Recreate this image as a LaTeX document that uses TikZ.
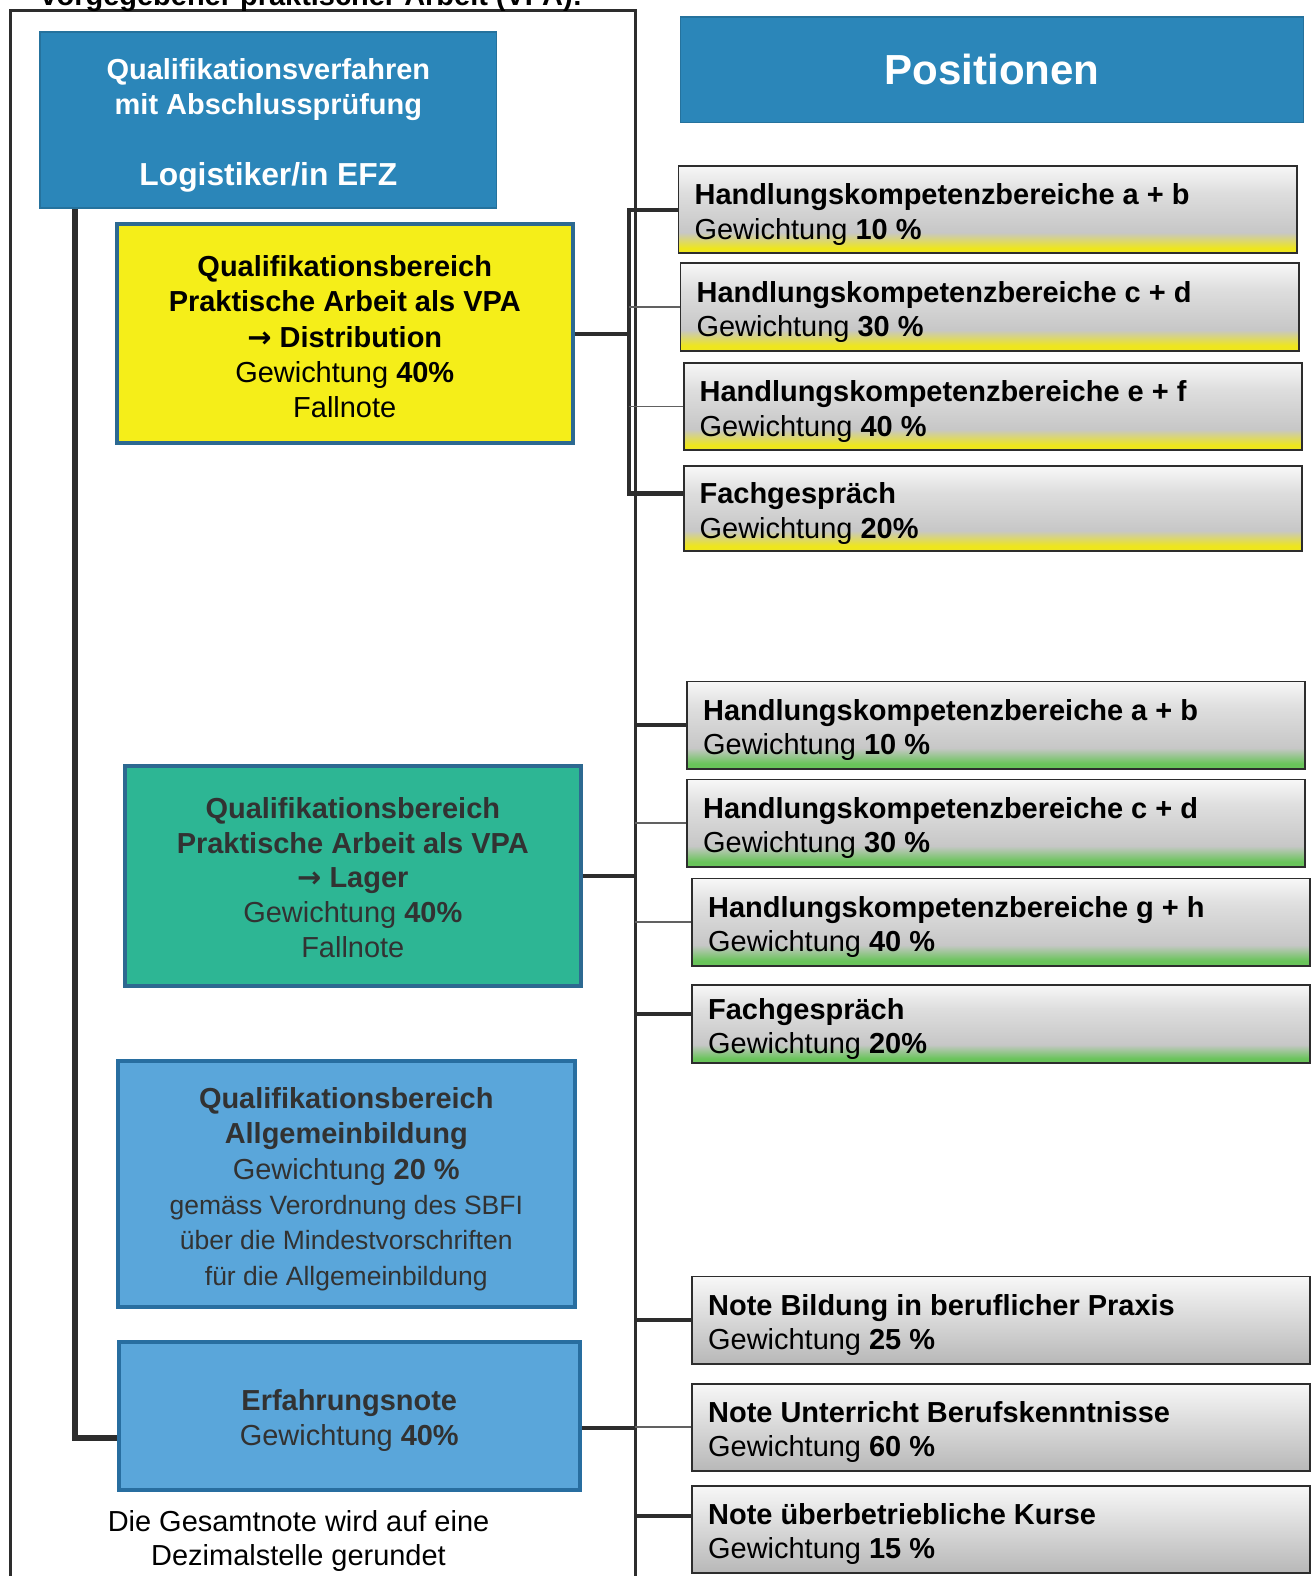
\documentclass[tikz,border=0pt]{standalone}
\usepackage{fontspec}
\setmainfont{Liberation Sans}
\newfontfamily\pfeilschrift{DejaVu Sans}
\usepackage{tikz}

\definecolor{dunkelblau}{RGB}{43,134,185}
\definecolor{hellblau}{RGB}{90,166,218}
\definecolor{gelb}{RGB}{245,238,25}
\definecolor{tuerkis}{RGB}{45,182,148}
\definecolor{rand}{RGB}{45,105,145}
\definecolor{randblau}{RGB}{40,110,160}
\definecolor{linie}{RGB}{45,45,45}
\definecolor{textgrau}{RGB}{50,50,50}
\definecolor{streifgelb}{RGB}{238,230,30}
\definecolor{streifgruen}{RGB}{105,196,90}

\pgfdeclareverticalshading{gelbverlauf}{100bp}{color(0bp)=(streifgelb); color(25bp)=(streifgelb); color(28bp)=(streifgelb); color(37bp)=(black!22); color(60bp)=(black!13); color(75bp)=(black!3); color(100bp)=(black!3)}
\pgfdeclareverticalshading{gruenverlauf}{100bp}{color(0bp)=(streifgruen); color(25bp)=(streifgruen); color(28bp)=(streifgruen); color(37bp)=(black!22); color(60bp)=(black!13); color(75bp)=(black!3); color(100bp)=(black!3)}

\newcommand{\normschrift}{\fontsize{16.4}{19.6}\selectfont}
\newcommand{\teilschrift}{\fontsize{16.4}{19.4}\selectfont}
\newcommand{\weitschrift}{\fontsize{16.4}{20}\selectfont}
\newcommand{\kleinschrift}{\fontsize{15}{20}\selectfont}
\newcommand{\pfeil}{{\pfeilschrift\bfseries →}}

\begin{document}
\begin{tikzpicture}[x=0.02cm, y=-0.02cm,
	hoch/.style={execute at begin node={\rule{0pt}{#1}}},
	kopf/.style={draw=dunkelblau!85!black, line width=1pt, fill=dunkelblau, text=white, font=\normschrift\bfseries, align=flush center, inner sep=0pt},
	bereich/.style={draw=rand, line width=2.3pt, align=flush center, inner sep=0pt, text width=9.08cm, font=\weitschrift},
	teil/.style={draw=linie, line width=1.1pt, align=flush left, text width=11.66cm, inner xsep=0.32cm, inner ysep=0pt, minimum height=1.74cm, font=\teilschrift, hoch=17.6pt},
	gelbteil/.style={teil, shade, shading=gelbverlauf},
	gruenteil/.style={teil, shade, shading=gruenverlauf},
	grauteil/.style={teil, top color=black!3, bottom color=black!28},
	rahmen/.style={draw=linie, line width=1.7pt},
	stamm/.style={draw=linie, line width=3.4pt},
	dick/.style={draw=linie, line width=2.3pt},
	duenn/.style={draw=linie!75, line width=0.9pt}]
			\useasboundingbox (0,0) rectangle (1309,1568);
			\draw[rahmen] (10,1600) |- (632,10) -- (632,1600);
			\node[anchor=base west, inner sep=0pt, font=\normschrift\bfseries] (ueberschrift)at(40, 5) {vorgegebener praktischer Arbeit (VPA):};

			\node[kopf, hoch=17.6pt, text width=9.08cm, minimum height=3.5cm] (verfahren)at(267, 119.5) {Qualifikationsverfahren\\mit Abschlussprüfung\\[20.6pt]{\fontsize{18}{21.6}\selectfont Logistiker/in EFZ}};
			\node[kopf, font=\fontsize{23.8}{28}\selectfont\bfseries, minimum width=12.4cm, minimum height=2.1cm] (positionen)at(987, 69.5) {Positionen};

			\node[bereich, hoch=15.4pt, fill=gelb, minimum height=4.36cm] (distribution)at(343, 332) {\textbf{Qualifikationsbereich}\\\textbf{Praktische Arbeit als VPA}\\\pfeil\ \textbf{Distribution}\\Gewichtung \textbf{40\%}\\Fallnote};
			\node[bereich, hoch=13.7pt, font=\normschrift, fill=tuerkis, text=textgrau, minimum height=4.38cm] (lager)at(351, 871.5) {\textbf{Qualifikationsbereich}\\\textbf{Praktische Arbeit als VPA}\\\pfeil\ \textbf{Lager}\\Gewichtung \textbf{40\%}\\Fallnote};
			\node[bereich, hoch=17.7pt, fill=hellblau, draw=randblau, text=textgrau, text width=9.1cm, minimum height=4.88cm] (allgemein)at(344.5, 1178) {\textbf{Qualifikationsbereich}\\\textbf{Allgemeinbildung}\\Gewichtung \textbf{20 \%}\\{\kleinschrift gemäss Verordnung des SBFI}\\{\kleinschrift über die Mindestvorschriften}\\{\kleinschrift für die Allgemeinbildung}};
			\node[bereich, hoch=17.7pt, fill=hellblau, draw=randblau, text=textgrau, text width=9.18cm, minimum height=2.94cm] (erfahrung)at(347.5, 1408.5) {\textbf{Erfahrungsnote}\\Gewichtung \textbf{40\%}};
			\node[align=center, font=\normschrift] (gesamtnote)at(297, 1533) {Die Gesamtnote wird auf eine\\Dezimalstelle gerundet};

			\node[gelbteil] (d1)at(982.5, 208.5) {\textbf{Handlungskompetenzbereiche a + b}\\Gewichtung \textbf{10 \%}};
			\node[gelbteil] (d2)at(984.5, 305.5) {\textbf{Handlungskompetenzbereiche c + d}\\Gewichtung \textbf{30 \%}};
			\node[gelbteil] (d3)at(987.5, 404.5) {\textbf{Handlungskompetenzbereiche e + f}\\Gewichtung \textbf{40 \%}};
			\node[gelbteil, minimum height=1.68cm] (d4)at(987.5, 506) {\textbf{Fachgespräch}\\Gewichtung \textbf{20\%}};

			\node[gruenteil] (l1)at(991, 721.5) {\textbf{Handlungskompetenzbereiche a + b}\\Gewichtung \textbf{10 \%}};
			\node[gruenteil] (l2)at(991, 819) {\textbf{Handlungskompetenzbereiche c + d}\\Gewichtung \textbf{30 \%}};
			\node[gruenteil] (l3)at(996, 917.5) {\textbf{Handlungskompetenzbereiche g + h}\\Gewichtung \textbf{40 \%}};
			\node[gruenteil, minimum height=1.56cm] (l4)at(996, 1019) {\textbf{Fachgespräch}\\Gewichtung \textbf{20\%}};

			\node[grauteil] (n1)at(996, 1313.5) {\textbf{Note Bildung in beruflicher Praxis}\\Gewichtung \textbf{25 \%}};
			\node[grauteil] (n2)at(996, 1420) {\textbf{Note Unterricht Berufskenntnisse}\\Gewichtung \textbf{60 \%}};
			\node[grauteil] (n3)at(996, 1521.5) {\textbf{Note überbetriebliche Kurse}\\Gewichtung \textbf{15 \%}};

			\coordinate (klammer)at(626, 0);
			\coordinate (achse)at(632, 0);
			\coordinate (d4an)at([yshift=0.3cm]d4.west);
			\coordinate (l4an)at([yshift=0.2cm]l4.west);
			\coordinate (n3an)at([yshift=0.26cm]n3.west);
			\coordinate (erfan)at([yshift=-0.24cm]erfahrung.east);
			\coordinate (stammoben)at([xshift=0.7cm]verfahren.south west);
			\coordinate (stammunten)at([yshift=-0.44cm]erfahrung.west);

			\draw[stamm] (stammoben) |- (stammunten);

			\draw[dick] (distribution.east) -- (distribution.east -| klammer);
			\draw[dick] (d1.west) -- (d1.west -| klammer) -- (d4an -| klammer) -- (d4an);
			\draw[duenn] (d2.west -| klammer) -- (d2.west);
			\draw[duenn] (d3.west -| klammer) -- (d3.west);

			\draw[dick] (lager.east) -- (lager.east -| achse);
			\draw[dick] (l1.west -| achse) -- (l1.west);
			\draw[duenn] (l2.west -| achse) -- (l2.west);
			\draw[duenn] (l3.west -| achse) -- (l3.west);
			\draw[dick] (l4an -| achse) -- (l4an);

			\draw[dick] (erfan) -- (erfan -| achse);
			\draw[dick] (n1.west -| achse) -- (n1.west);
			\draw[duenn] (n2.west -| achse) -- (n2.west);
			\draw[dick] (n3an -| achse) -- (n3an);
\end{tikzpicture}
\end{document}
